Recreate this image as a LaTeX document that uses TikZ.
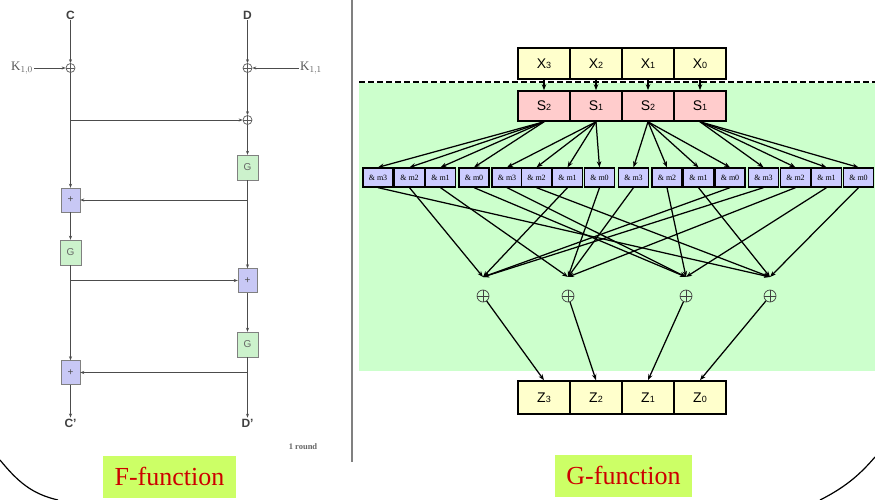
\documentclass[tikz,border=0pt]{standalone}
\usepackage{fontspec}
\setmainfont{Liberation Serif}
\setsansfont{Liberation Sans}
\usetikzlibrary{arrows.meta}
\definecolor{fgreen}{HTML}{CCF2CC}
\definecolor{fblue}{HTML}{C8C8F5}
\definecolor{ggreen}{HTML}{CCFFCC}
\definecolor{xyellow}{HTML}{FFFFCC}
\definecolor{spink}{HTML}{FFCCCC}
\definecolor{mblue}{HTML}{CCCCFF}
\definecolor{lgreen}{HTML}{CCFF66}
\definecolor{lred}{HTML}{CC0000}
\newcommand\sbs[1]{{\fontsize{9}{9}\selectfont #1}}
\begin{document}
\begin{tikzpicture}[x=1pt,y=-1pt,
  fline/.style={draw=black!70, line width=0.9pt},
  farr/.style={fline, -{Stealth[length=4pt,width=3pt]}},
  gbox/.style={draw=black!50, fill=fgreen, minimum width=21pt, minimum height=25pt, inner sep=0pt, font=\sffamily\fontsize{10}{10}\selectfont, text=black!60},
  bbox/.style={draw=black!50, fill=fblue, minimum width=19pt, minimum height=24pt, inner sep=0pt, font=\sffamily\fontsize{10}{10}\selectfont, text=black!70},
  xorc/.style={circle, draw, inner sep=0pt, path picture={
      \draw[line width=0.6pt] (path picture bounding box.north) -- (path picture bounding box.south)
            (path picture bounding box.west) -- (path picture bounding box.east);}},
  fxor/.style={xorc, draw=black!65, line width=0.7pt, minimum size=9pt},
  gxor/.style={xorc, draw=black!75, line width=0.7pt, minimum size=12pt},
  ftxt/.style={font=\sffamily\bfseries\fontsize{12}{12}\selectfont, text=black!75, inner sep=1pt},
  ktxt/.style={font=\fontsize{13}{13}\selectfont, text=black!65, inner sep=1pt},
  wbox/.style={draw=black, line width=1.6pt, minimum width=52pt, inner sep=0pt, font=\sffamily\fontsize{14}{14}\selectfont},
  xbox/.style={wbox, fill=xyellow, minimum height=31pt},
  sbox/.style={wbox, fill=spink, minimum height=30pt},
  zbox/.style={wbox, fill=xyellow, minimum height=33pt},
  mbox/.style={draw=black, line width=1.3pt, fill=mblue, minimum width=30pt, minimum height=19pt, inner sep=0pt, font=\fontsize{8}{8}\selectfont},
  garr/.style={draw=black, line width=1.25pt, -{Stealth[length=6pt,width=4.5pt]}},
  lab/.style={fill=lgreen, text=lred, font=\fontsize{26}{26}\selectfont, inner sep=0pt, minimum height=42pt},
]
\useasboundingbox (0,0) rectangle (875,500);
% G-function background
\fill[ggreen] (359,83) rectangle (875,371);
\draw[line width=2pt, dash pattern=on 6pt off 3pt] (359,82) -- (875,82);
\draw[gray, line width=1.5pt] (352,0) -- (352,462);

% ---------- F-function ----------
\node[ftxt] (C) at (70.5,15) {C};
\node[ftxt] (D) at (247.5,15) {D};
\node[fxor] (xa) at (70.5,68) {};
\node[fxor] (xb) at (247.5,68) {};
\node[fxor] (xc) at (247.5,120) {};
\node[ktxt] (k10) at (22,68) {K$_{1,0}$};
\node[ktxt] (k11) at (311,68) {K$_{1,1}$};
\node[gbox] (gr1) at (247.5,167.5) {G};
\node[bbox] (pl1) at (70.5,200) {+};
\node[gbox] (gl) at (70.5,252.5) {G};
\node[bbox] (pr) at (247.5,280.5) {+};
\node[gbox] (gr2) at (247.5,344.5) {G};
\node[bbox] (pl2) at (70.5,372.5) {+};
\node[ftxt] (Cp) at (70.5,423) {C'};
\node[ftxt] (Dp) at (247.5,423) {D'};
\node[font=\bfseries\fontsize{8.5}{8.5}\selectfont, text=black!60] (rnd) at (303,447) {1 round};

\draw[farr] (C) -- (xa);
\draw[farr] (D) -- (xb);
\draw[farr] (k10) -- (xa);
\draw[farr] (k11) -- (xb);
\draw[farr] (xb) -- (xc);
\draw[farr] (xa) -- (pl1);
\draw[farr] (xa |- xc) -- (xc);
\draw[farr] (xc) -- (gr1);
\draw[farr] (gr1) -- (pr);
\draw[farr] (gr1 |- pl1) -- (pl1);
\draw[farr] (pl1) -- (gl);
\draw[farr] (gl) -- (pl2);
\draw[farr] (gl |- pr) -- (pr);
\draw[farr] (pr) -- (gr2);
\draw[farr] (gr2) -- (Dp);
\draw[farr] (gr2 |- pl2) -- (pl2);
\draw[farr] (pl2) -- (Cp);

% ---------- G-function ----------
\node[xbox] (x3) at (544,63.5) {X\sbs{3}};
\node[xbox] (x2) at (596,63.5) {X\sbs{2}};
\node[xbox] (x1) at (648,63.5) {X\sbs{1}};
\node[xbox] (x0) at (700,63.5) {X\sbs{0}};
\node[sbox] (s3) at (544,106) {S\sbs{2}};
\node[sbox] (s2) at (596,106) {S\sbs{1}};
\node[sbox] (s1) at (648,106) {S\sbs{2}};
\node[sbox] (s0) at (700,106) {S\sbs{1}};
\node[zbox] (z3) at (544,397.5) {Z\sbs{3}};
\node[zbox] (z2) at (596,397.5) {Z\sbs{2}};
\node[zbox] (z1) at (648,397.5) {Z\sbs{1}};
\node[zbox] (z0) at (700,397.5) {Z\sbs{0}};

\foreach \a/\b in {x3/s3,x2/s2,x1/s1,x0/s0}
  \draw[garr] (\a.south) -- (\b.north);

\foreach \i/\xx/\t in {1/378/3,2/409.5/2,3/440.5/1,4/474/0,
                       5/507/3,6/536.5/2,7/567.5/1,8/599.5/0,
                       9/633.5/3,10/667/2,11/698.5/1,12/730/0,
                       13/763.5/3,14/795.5/2,15/826.5/1,16/858.5/0}
  \node[mbox] (m\i) at (\xx,177.5) {\& m\t};

\foreach \s/\a/\b in {s3/1/4,s2/5/8,s1/9/12,s0/13/16}
  \foreach \j in {\a,...,\b}
    \draw[garr] (\s.south) -- (m\j.north);

\coordinate (t1) at (483,277);
\coordinate (t2) at (568,277);
\coordinate (t3) at (686,277);
\coordinate (t4) at (770,277);
\node[gxor] (o1) at (483,296) {};
\node[gxor] (o2) at (568,296) {};
\node[gxor] (o3) at (686,296) {};
\node[gxor] (o4) at (770,296) {};

\foreach \i/\k in {1/4,2/1,3/2,4/3,5/3,6/4,7/1,8/2,
                   9/2,10/3,11/4,12/1,13/1,14/2,15/3,16/4}
  \draw[garr] (m\i.south) -- (t\k);

\draw[garr] (o1) -- (z3.north);
\draw[garr] (o2) -- (z2.north);
\draw[garr] (o3) -- (z1.north);
\draw[garr] (o4) -- (z0.north);

% labels
\node[lab, minimum width=133pt] (ff) at (169.5,476.5) {F-function};
\node[lab, minimum width=137pt] (gf) at (623.5,475.5) {G-function};

% bracket curves
\draw[line width=1.2pt] (0,460) .. controls (18,482) and (32,494) .. (58,500);
\draw[line width=1.2pt] (875,457) .. controls (862,472) and (848,486) .. (820,500);
\end{tikzpicture}
\end{document}
